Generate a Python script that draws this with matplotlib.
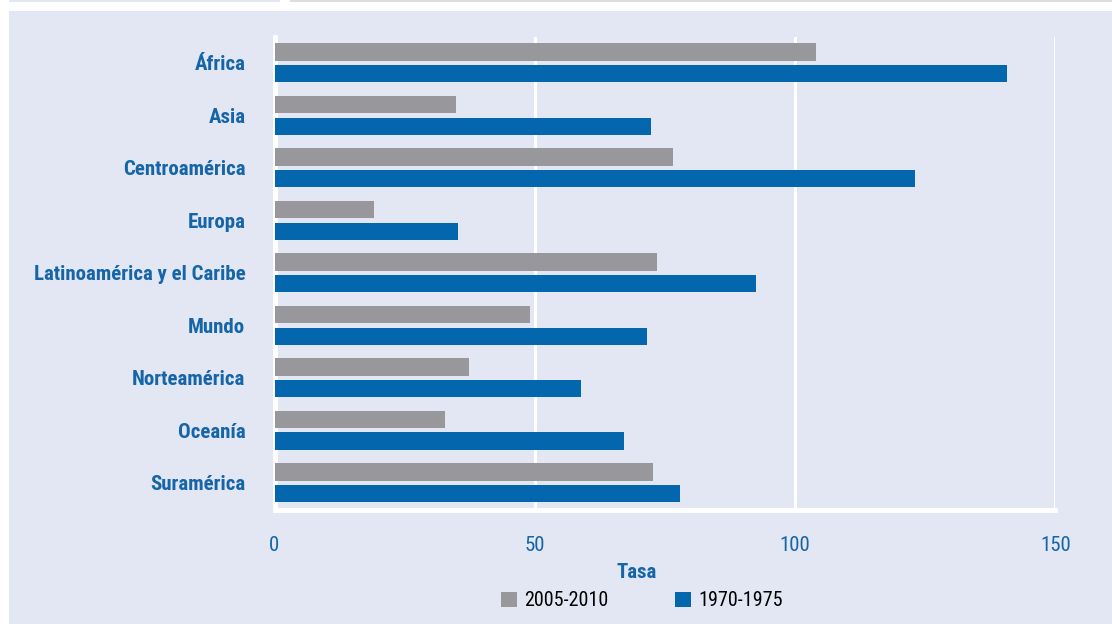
import matplotlib
matplotlib.use("Agg")
import matplotlib.pyplot as plt
from matplotlib import font_manager
from matplotlib.patches import Rectangle
import numpy as np

# values
regions = ['África', 'Asia', 'Centroamérica', 'Europa', 'Latinoamérica y el Caribe',
           'Mundo', 'Norteamérica', 'Oceanía', 'Suramérica']
tasa_2005_2010 = [104.1, 34.8, 76.6, 19.1, 73.5, 49.0, 37.4, 32.8, 72.8]
tasa_1970_1975 = [140.8, 72.3, 123.0, 35.3, 92.5, 71.5, 58.9, 67.1, 77.9]
series_labels = ['2005-2010', '1970-1975']
x_ticks = [0, 50, 100, 150]

bg = '#e3e7f3'
gray = '#98989c'
blue = '#0467ad'
label_blue = '#1565a8'

# condensed face if there is one
installed = {f.name for f in font_manager.fontManager.ttflist}
font = [f for f in ['Liberation Sans Narrow', 'Roboto Condensed', 'DejaVu Sans Condensed']
        if f in installed] + ['DejaVu Sans']
plt.rcParams['font.family'] = font

fig = plt.figure(figsize=(11.12, 6.24), dpi=100)
fig.patch.set_facecolor('white')
fig.patches.append(Rectangle((9 / 1112, 0), 1, 1 - 11 / 624, transform=fig.transFigure,
                             facecolor=bg, edgecolor='none', zorder=-10))
fig.patches.append(Rectangle((9 / 1112, 1 - 2 / 624), 271 / 1112, 2 / 624, transform=fig.transFigure,
                             facecolor=bg, edgecolor='none', zorder=-10))
fig.patches.append(Rectangle((290 / 1112, 1 - 2 / 624), 1, 2 / 624, transform=fig.transFigure,
                             facecolor='#dcdcdc', edgecolor='none', zorder=-10))

ax = fig.add_axes([274.5 / 1112, 1 - 510 / 624, (1055.3 - 274.5) / 1112, (510 - 36.7) / 624])
ax.set_facecolor(bg)

y = np.arange(len(regions))
h = 0.33
off = 0.207
b1 = ax.barh(y - off, tasa_2005_2010, height=h, color=gray, label=series_labels[0], zorder=3)
b2 = ax.barh(y + off, tasa_1970_1975, height=h, color=blue, label=series_labels[1], zorder=3)

ax.set_xlim(0, 150)
ax.set_ylim(8.52, -0.5)
ax.set_xticks(x_ticks)
ax.set_yticks(y)
ax.set_yticklabels(regions, fontweight='bold', fontsize=15, color=label_blue)
ax.tick_params(axis='y', length=0, pad=21)
ax.tick_params(axis='x', length=0, pad=19, labelsize=15, labelcolor=label_blue)
ax.xaxis.grid(True, color='white', linewidth=2.2, zorder=1)
for s in ['top', 'right']:
    ax.spines[s].set_visible(False)
for s in ['left', 'bottom']:
    ax.spines[s].set_color('white')
    ax.spines[s].set_linewidth(3.5)
    ax.spines[s].set_zorder(2)

fig.text(637 / 1112, 1 - 572 / 624, 'Tasa', ha='center', va='center',
         fontsize=15, fontweight='bold', color=label_blue)

fig.legend(handles=[b1, b2], labels=series_labels, loc='center',
           bbox_to_anchor=(642 / 1112, 1 - 601 / 624), ncol=2, frameon=False,
           fontsize=14.5, handlelength=0.8, handleheight=0.8, handletextpad=0.35,
           columnspacing=3.3)

fig.savefig('out.png', dpi=100, facecolor=fig.get_facecolor())
